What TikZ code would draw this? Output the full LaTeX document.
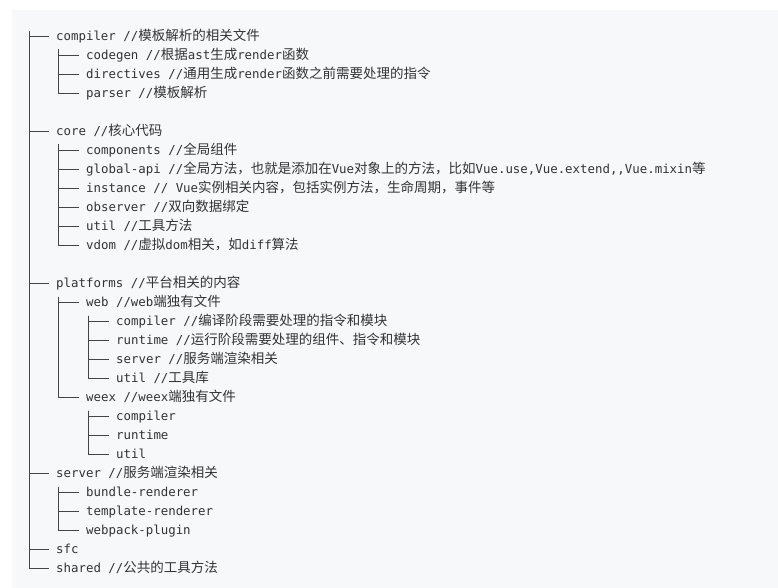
\documentclass[tikz,border=0pt]{standalone}
\usepackage{fontspec}
\newfontfamily\codefont{DejaVu Sans Mono}
\newfontfamily\zhfont{Noto Sans CJK SC}
\newcommand{\zh}[1]{{\zhfont\fontsize{13.5}{15}\selectfont #1}}
\definecolor{codebg}{HTML}{F6F8FA}
\definecolor{codetxt}{HTML}{333333}
\definecolor{treeline}{HTML}{444444}

\begin{document}
\begin{tikzpicture}[x=1pt,y=-1pt]
	\tikzstyle{entry}=[anchor=west,inner sep=0pt,text height=10pt,text depth=1.6pt,text=codetxt,font=\codefont\fontsize{12.4}{15}\selectfont]
	\tikzstyle{branch}=[draw=treeline,line width=0.7pt]

	\useasboundingbox (0,0) rectangle (778,588);
	\fill [codebg] (12,10) rectangle (778,588);

	\coordinate (src) at (29.5,31);

	%%% compiler
	\node at (56, 36.5) [entry] (compiler) {compiler //\zh{模板解析的相关文件}};
	\node at (86, 55.5) [entry] (codegen) {codegen //\zh{根据}ast\zh{生成}render\zh{函数}};
	\node at (86, 74.5) [entry] (directives) {directives //\zh{通用生成}render\zh{函数之前需要处理的指令}};
	\node at (86, 93.5) [entry] (parser) {parser //\zh{模板解析}};

	%%% core
	\node at (56, 131.5) [entry] (core) {core //\zh{核心代码}};
	\node at (86, 150.5) [entry] (components) {components //\zh{全局组件}};
	\node at (86, 169.5) [entry] (globalapi) {global-api //\zh{全局方法，也就是添加在}Vue\zh{对象上的方法，比如}Vue.use,Vue.extend,,Vue.mixin\zh{等}};
	\node at (86, 188.5) [entry] (instance) {instance // Vue\zh{实例相关内容，包括实例方法，生命周期，事件等}};
	\node at (86, 207.5) [entry] (observer) {observer //\zh{双向数据绑定}};
	\node at (86, 226.5) [entry] (coreutil) {util //\zh{工具方法}};
	\node at (86, 245.5) [entry] (vdom) {vdom //\zh{虚拟}dom\zh{相关，如}diff\zh{算法}};

	%%% platforms
	\node at (56, 283.5) [entry] (platforms) {platforms //\zh{平台相关的内容}};
	\node at (86, 302.5) [entry] (web) {web //web\zh{端独有文件}};
	\node at (116, 321.5) [entry] (webcompiler) {compiler //\zh{编译阶段需要处理的指令和模块}};
	\node at (116, 340.5) [entry] (webruntime) {runtime //\zh{运行阶段需要处理的组件、指令和模块}};
	\node at (116, 359.5) [entry] (webserver) {server //\zh{服务端渲染相关}};
	\node at (116, 378.5) [entry] (webutil) {util //\zh{工具库}};
	\node at (86, 397.5) [entry] (weex) {weex //weex\zh{端独有文件}};
	\node at (116, 416.5) [entry] (weexcompiler) {compiler};
	\node at (116, 435.5) [entry] (weexruntime) {runtime};
	\node at (116, 454.5) [entry] (weexutil) {util};

	%%% server, sfc, shared
	\node at (56, 473.5) [entry] (server) {server //\zh{服务端渲染相关}};
	\node at (86, 492.5) [entry] (bundle) {bundle-renderer};
	\node at (86, 511.5) [entry] (template) {template-renderer};
	\node at (86, 530.5) [entry] (webpack) {webpack-plugin};
	\node at (56, 549.5) [entry] (sfc) {sfc};
	\node at (56, 568.5) [entry] (shared) {shared //\zh{公共的工具方法}};

	%%% top level branches
	\draw[branch] (src) |- ([xshift=-7pt]compiler.west);
	\draw[branch] (src) |- ([xshift=-7pt]core.west);
	\draw[branch] (src) |- ([xshift=-7pt]platforms.west);
	\draw[branch] (src) |- ([xshift=-7pt]server.west);
	\draw[branch] (src) |- ([xshift=-7pt]sfc.west);
	\draw[branch] (src) |- ([xshift=-7pt]shared.west);

	%%% compiler branches
	\draw[branch] ([xshift=2.5pt,yshift=-13pt]compiler.west) |- ([xshift=-7pt]codegen.west);
	\draw[branch] ([xshift=2.5pt,yshift=-13pt]compiler.west) |- ([xshift=-7pt]directives.west);
	\draw[branch] ([xshift=2.5pt,yshift=-13pt]compiler.west) |- ([xshift=-7pt]parser.west);

	%%% core branches
	\draw[branch] ([xshift=2.5pt,yshift=-13pt]core.west) |- ([xshift=-7pt]components.west);
	\draw[branch] ([xshift=2.5pt,yshift=-13pt]core.west) |- ([xshift=-7pt]globalapi.west);
	\draw[branch] ([xshift=2.5pt,yshift=-13pt]core.west) |- ([xshift=-7pt]instance.west);
	\draw[branch] ([xshift=2.5pt,yshift=-13pt]core.west) |- ([xshift=-7pt]observer.west);
	\draw[branch] ([xshift=2.5pt,yshift=-13pt]core.west) |- ([xshift=-7pt]coreutil.west);
	\draw[branch] ([xshift=2.5pt,yshift=-13pt]core.west) |- ([xshift=-7pt]vdom.west);

	%%% platforms branches
	\draw[branch] ([xshift=2.5pt,yshift=-13pt]platforms.west) |- ([xshift=-7pt]web.west);
	\draw[branch] ([xshift=2.5pt,yshift=-13pt]platforms.west) |- ([xshift=-7pt]weex.west);
	\draw[branch] ([xshift=2.5pt,yshift=-13pt]web.west) |- ([xshift=-7pt]webcompiler.west);
	\draw[branch] ([xshift=2.5pt,yshift=-13pt]web.west) |- ([xshift=-7pt]webruntime.west);
	\draw[branch] ([xshift=2.5pt,yshift=-13pt]web.west) |- ([xshift=-7pt]webserver.west);
	\draw[branch] ([xshift=2.5pt,yshift=-13pt]web.west) |- ([xshift=-7pt]webutil.west);
	\draw[branch] ([xshift=2.5pt,yshift=-13pt]weex.west) |- ([xshift=-7pt]weexcompiler.west);
	\draw[branch] ([xshift=2.5pt,yshift=-13pt]weex.west) |- ([xshift=-7pt]weexruntime.west);
	\draw[branch] ([xshift=2.5pt,yshift=-13pt]weex.west) |- ([xshift=-7pt]weexutil.west);

	%%% server branches
	\draw[branch] ([xshift=2.5pt,yshift=-13pt]server.west) |- ([xshift=-7pt]bundle.west);
	\draw[branch] ([xshift=2.5pt,yshift=-13pt]server.west) |- ([xshift=-7pt]template.west);
	\draw[branch] ([xshift=2.5pt,yshift=-13pt]server.west) |- ([xshift=-7pt]webpack.west);
\end{tikzpicture}
\end{document}
